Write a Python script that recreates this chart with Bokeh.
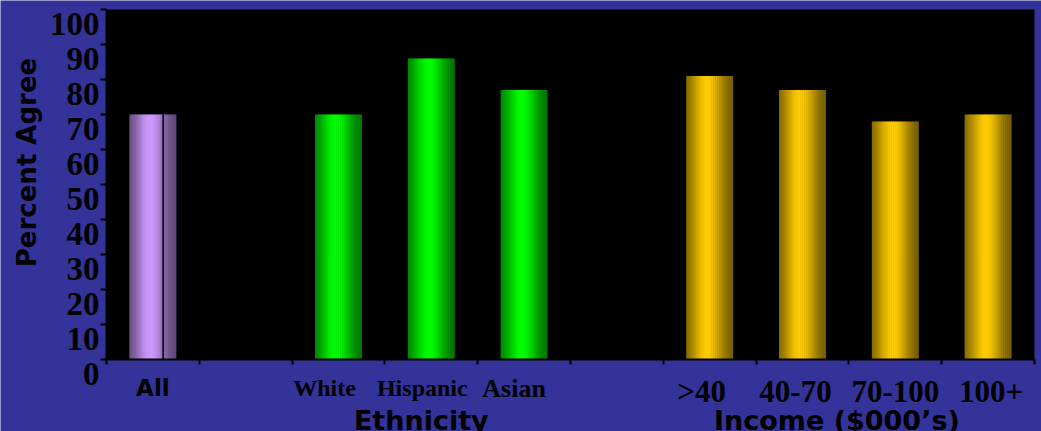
import numpy as np
from bokeh.plotting import figure
from bokeh.models import ColumnDataSource, FixedTicker, Range1d
from bokeh.core.properties import value
from bokeh.embed import file_html
from bokeh.resources import INLINE

# ---------------- data ----------------
all_labels = ["All"]
all_values = [70]
eth_labels = ["White", "Hispanic", "Asian"]
eth_values = [70, 86, 77]
inc_labels = [">40", "40-70", "70-100", "100+"]
inc_values = [81, 77, 68, 70]
y_ticks = [0, 10, 20, 30, 40, 50, 60, 70, 80, 90, 100]
y_tick_labels = ["0", "10", "20", "30", "40", "50", "60", "70", "80", "90", "100"]
y_title = "Percent Agree"
eth_title = "Ethnicity"
inc_title = "Income ($000\u2019s)"

BLUE = "#333399"
groups = [
    dict(labels=all_labels, values=all_values, rgb=(204, 153, 255)),
    dict(labels=eth_labels, values=eth_values, rgb=(0, 255, 0)),
    dict(labels=inc_labels, values=inc_values, rgb=(255, 204, 0)),
]

pos = 0
for g in groups:
    g["slots"] = list(range(pos, pos + len(g["labels"])))
    pos += len(g["labels"]) + 1
n_slots = pos - 1

BAR_W = 0.5
N_SLICE = 24
xs, tops, cols = [], [], []
for g in groups:
    r, gg, b = g["rgb"]
    for s, v in zip(g["slots"], g["values"]):
        c = s + 0.5
        for k in range(N_SLICE):
            t = (k + 0.5) / N_SLICE
            f = 0.42 + 0.58 * np.exp(-((t - 0.45) / 0.35) ** 2)
            xs.append(c - BAR_W / 2 + t * BAR_W)
            tops.append(v)
            cols.append("#%02x%02x%02x" % (int(r * f), int(gg * f), int(b * f)))
src = ColumnDataSource(dict(x=xs, top=tops, color=cols))

# ---------------- layout ----------------
W, H = 1041, 431
AREA_L, AREA_R, AREA_T, AREA_B = 106, 1034, 9, 359      # black plotting area in pixels
px_x = (AREA_R - AREA_L) / n_slots
px_y = (AREA_B - AREA_T) / 100.0
x_start = -AREA_L / px_x
x_end = n_slots + (W - AREA_R) / px_x
y_start = -(H - AREA_B) / px_y
y_end = 100 + AREA_T / px_y

p = figure(width=W, height=H, output_backend="svg", toolbar_location=None,
           x_range=Range1d(x_start, x_end), y_range=Range1d(y_start, y_end),
           min_border_left=0, min_border_right=0, min_border_top=0, min_border_bottom=0)
p.background_fill_color = BLUE
p.border_fill_color = BLUE
p.outline_line_color = None
p.xgrid.visible = False
p.ygrid.visible = False

# black plotting area
p.quad(left=[0], right=[n_slots], bottom=[0], top=[100], fill_color="black", line_color=None)

p.vbar(x="x", top="top", width=BAR_W / N_SLICE * 1.3, bottom=0, fill_color="color",
       line_color=None, source=src)

all_c = [s + 0.5 + 0.11 for s in groups[0]["slots"]]
p.segment(x0=all_c, y0=[0] * len(all_c), x1=all_c, y1=all_values, line_color="black", line_width=1.5)

# axes: lines and ticks
for ax in (p.xaxis, p.yaxis):
    ax.fixed_location = 0
    ax.axis_line_color = "black"
    ax.axis_line_width = 2
    ax.major_tick_line_color = "black"
    ax.major_tick_line_width = 2
    ax.major_tick_in = 0
    ax.minor_tick_line_color = None
    ax.major_label_text_font_size = "0px"
    ax.major_label_standoff = 0
p.xaxis.ticker = FixedTicker(ticks=list(range(n_slots + 1)))
p.xaxis.major_tick_out = 5
p.xaxis.bounds = (0, n_slots)
p.yaxis.ticker = FixedTicker(ticks=y_ticks)
p.yaxis.major_tick_out = 6
p.yaxis.bounds = (0, 100)

# y tick labels, drawn ~15px below their ticks as in the original
p.text(x=[0] * len(y_ticks), y=y_ticks, text=y_tick_labels, x_offset=-7, y_offset=14,
       text_align="right", text_baseline="middle", text_font=value("Liberation Serif"),
       text_font_style="bold", text_font_size=value("33px"), text_color="black")
p.text(x=[0], y=[50], text=[y_title], angle=np.pi / 2, x_offset=-80, y_offset=-22,
       text_align="center", text_baseline="middle", text_font=value("DejaVu Sans"),
       text_font_style="bold", text_font_size=value("26px"), text_color="black")

# category labels
def centers(g):
    return [s + 0.5 for s in g["slots"]]

p.text(x=centers(groups[0]), y=[0] * len(all_labels), text=all_labels, y_offset=28,
       text_align="center", text_baseline="middle", text_font=value("DejaVu Sans"),
       text_font_style="bold", text_font_size=value("23px"), text_color="black")
p.text(x=centers(groups[1])[:2], y=[0, 0], text=eth_labels[:2], x_offset=[-14, -9], y_offset=28,
       text_align="center", text_baseline="middle", text_font=value("Liberation Serif"),
       text_font_style="bold", text_font_size=value("24px"), text_color="black")
p.text(x=centers(groups[1])[2:], y=[0], text=eth_labels[2:], x_offset=-10, y_offset=29,
       text_align="center", text_baseline="middle", text_font=value("Liberation Serif"),
       text_font_style="bold", text_font_size=value("26px"), text_color="black")
p.text(x=centers(groups[2]), y=[0] * len(inc_labels), text=inc_labels, x_offset=[-8, -7, 0, 3],
       y_offset=32, text_align="center", text_baseline="middle",
       text_font=value("Liberation Serif"), text_font_style="bold",
       text_font_size=value("31px"), text_color="black")

eth_mid = (groups[1]["slots"][0] + groups[1]["slots"][-1] + 1) / 2
inc_mid = (groups[2]["slots"][0] + groups[2]["slots"][-1] + 1) / 2
p.text(x=[eth_mid, inc_mid], y=[0, 0], text=[eth_title, inc_title], x_offset=[-10, -12],
       y_offset=61, text_align="center", text_baseline="middle",
       text_font=value("DejaVu Sans"), text_font_style="bold",
       text_font_size=value("27px"), text_color="black")

open("out.html", "w").write(file_html(p, INLINE))
